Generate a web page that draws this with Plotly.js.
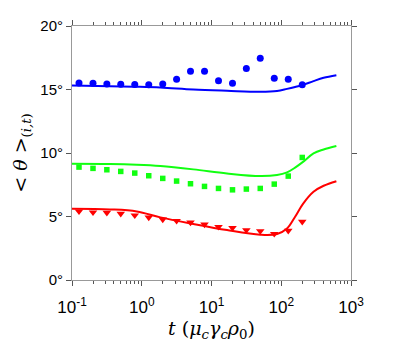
<!DOCTYPE html>
<html>
<head>
<meta charset="utf-8">
<script src="https://cdn.plot.ly/plotly-3.0.1.min.js"></script>
<style>html,body{margin:0;padding:0;background:#fff;}#chart{width:407px;height:347px;}</style>
</head>
<body>
<div id="chart"></div>
<script>
// Simulation points (markers)
const tPoints = [0.126, 0.2, 0.316, 0.5, 0.794, 1.26, 2.0, 3.16, 5.0, 7.94, 12.6, 20, 31.6, 50, 79.4, 126, 200];
const bluePoints  = [15.52, 15.50, 15.44, 15.42, 15.39, 15.37, 15.44, 15.81, 16.44, 16.44, 15.68, 15.50, 16.66, 17.47, 15.89, 15.81, 15.37];
const greenPoints = [8.89, 8.79, 8.68, 8.55, 8.42, 8.21, 8.00, 7.79, 7.58, 7.37, 7.21, 7.10, 7.16, 7.21, 7.55, 8.18, 9.65];
const redPoints   = [5.41, 5.33, 5.30, 5.22, 5.09, 4.93, 4.77, 4.66, 4.53, 4.37, 4.19, 4.11, 3.93, 3.85, 3.64, 3.88, 4.59];

// Model curves (lines)
const tLine = [0.1, 0.35, 0.85, 1.85, 5.5, 16.7, 50, 87, 121, 158, 205, 290, 405, 617];
const blueLine  = [15.32, 15.26, 15.22, 15.16, 15.0, 14.9, 14.82, 14.88, 15.05, 15.2, 15.36, 15.66, 15.92, 16.13];
const greenLine = [9.15, 9.13, 9.07, 8.97, 8.71, 8.39, 8.18, 8.26, 8.47, 8.85, 9.3, 9.97, 10.28, 10.55];
const redLine   = [5.61, 5.56, 5.40, 4.93, 4.41, 3.93, 3.57, 3.62, 4.05, 4.98, 6.0, 6.95, 7.42, 7.78];

const xTickVals = [0.1, 1, 10, 100, 1000];
const xTickText = ['10<sup>-1</sup>', '10<sup>0</sup>', '10<sup>1</sup>', '10<sup>2</sup>', '10<sup>3</sup>'];
const yTickVals = [0, 5, 10, 15, 20];
const yTickText = ['0°', '5°', '10°', '15°', '20°'];

const minorVals = [];
for (let d = -1; d < 3; d++) for (let m = 2; m <= 9; m++) minorVals.push(m * Math.pow(10, d));

const BLUE = '#0000ff', GREEN = '#11ff11', RED = '#ff0000';
const lineT = (y, c) => ({x: tLine, y: y, mode: 'lines', line: {color: c, width: 2, shape: 'spline', smoothing: 1}, showlegend: false, hoverinfo: 'skip'});
const ptT = (y, c, sym, sz) => ({x: tPoints, y: y, mode: 'markers', marker: {color: c, symbol: sym, size: sz}, showlegend: false});

const data = [
  lineT(blueLine, BLUE), lineT(greenLine, GREEN), lineT(redLine, RED),
  ptT(bluePoints, BLUE, 'circle', 7),
  ptT(greenPoints, GREEN, 'square', 5.5),
  ptT(redPoints, RED, 'triangle-down', 7.5)
];

const axisCommon = {
  showline: true, linecolor: '#999', linewidth: 1, mirror: 'allticks',
  ticks: 'outside', ticklen: 5, tickcolor: '#555', tickwidth: 1,
  showgrid: false, zeroline: false
};

const layout = {
  width: 407, height: 347,
  margin: {l: 72, r: 56, t: 26, b: 67, pad: 0},
  paper_bgcolor: '#fff', plot_bgcolor: '#fff',
  xaxis: Object.assign({}, axisCommon, {
    type: 'log', range: [-1, 3], tickmode: 'array', tickvals: xTickVals, ticktext: xTickText,
    tickfont: {family: 'Liberation Sans, Arial, sans-serif', size: 17, color: '#000'},
    ticklabelstandoff: 7,
    minor: {tickmode: 'array', tickvals: minorVals, ticks: 'outside', ticklen: 3, tickcolor: '#555', showgrid: false},
    title: {text: '<i>t</i> (<i>μ<sub>c</sub>γ<sub>c</sub>ρ</i><sub>0</sub>)', font: {family: 'DejaVu Serif, serif', size: 19, color: '#000'}, standoff: 5}
  }),
  yaxis: Object.assign({}, axisCommon, {
    range: [0, 20], tickmode: 'array', tickvals: yTickVals, ticktext: yTickText,
    tickfont: {family: 'Liberation Sans, Arial, sans-serif', size: 15, color: '#000'},
    title: {text: '&lt; <i>θ</i> &gt;<sub>(<i>i,t</i>)</sub>', font: {family: 'DejaVu Serif, serif', size: 19, color: '#000'}, standoff: 7}
  })
};

Plotly.newPlot('chart', data, layout, {displayModeBar: false, staticPlot: true});
</script>
</body>
</html>
